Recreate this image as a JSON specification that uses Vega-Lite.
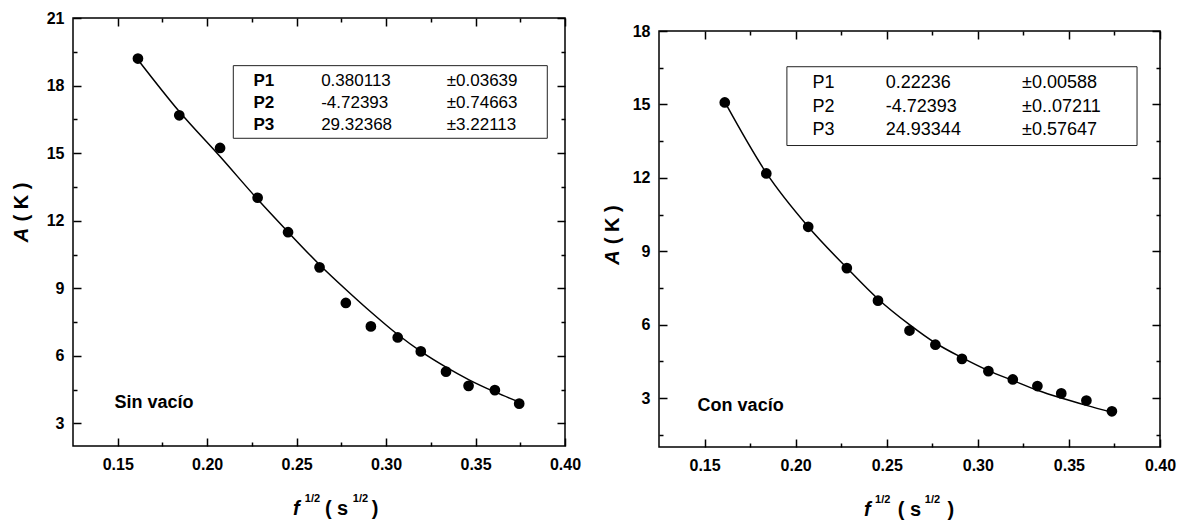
{
  "$schema": "https://vega.github.io/schema/vega-lite/v6.json",
  "background": "white",
  "padding": {"left": 11, "top": 9, "right": 0, "bottom": 0},
  "autosize": {"type": "pad"},
  "spacing": 20,
  "config": {
    "view": {"stroke": "black", "strokeWidth": 1.5},
    "font": "Liberation Sans",
    "axis": {"domain": false, "grid": false, "labelFont": "Liberation Sans", "labelFontSize": 16, "labelFontWeight": "bold", "labelColor": "black", "tickColor": "black", "tickWidth": 1.5, "labelFlush": false, "labelOverlap": false}
  },
  "datasets": {
    "left_points": [
      {"x": 0.1613, "y": 19.2}, {"x": 0.1844, "y": 16.68}, {"x": 0.2072, "y": 15.23}, {"x": 0.2282, "y": 13.02},
      {"x": 0.2452, "y": 11.49}, {"x": 0.2628, "y": 9.93}, {"x": 0.2775, "y": 8.35}, {"x": 0.2915, "y": 7.31},
      {"x": 0.3065, "y": 6.82}, {"x": 0.3194, "y": 6.2}, {"x": 0.3335, "y": 5.3}, {"x": 0.3461, "y": 4.67},
      {"x": 0.3608, "y": 4.48}, {"x": 0.3744, "y": 3.88}
    ],
    "left_fit": [
      {"x": 0.1613, "y": 19.15}, {"x": 0.1844, "y": 16.85}, {"x": 0.2072, "y": 14.85}, {"x": 0.2282, "y": 12.95},
      {"x": 0.2452, "y": 11.5}, {"x": 0.2628, "y": 10.05}, {"x": 0.2775, "y": 8.95}, {"x": 0.2915, "y": 7.95},
      {"x": 0.3065, "y": 6.95}, {"x": 0.3194, "y": 6.2}, {"x": 0.3335, "y": 5.5}, {"x": 0.3461, "y": 4.95},
      {"x": 0.3608, "y": 4.4}, {"x": 0.3744, "y": 3.95}
    ],
    "right_points": [
      {"x": 0.1611, "y": 15.08}, {"x": 0.1839, "y": 12.18}, {"x": 0.2069, "y": 10.0}, {"x": 0.2281, "y": 8.31},
      {"x": 0.2452, "y": 6.98}, {"x": 0.2625, "y": 5.76}, {"x": 0.2767, "y": 5.18}, {"x": 0.2913, "y": 4.6},
      {"x": 0.3058, "y": 4.1}, {"x": 0.3192, "y": 3.76}, {"x": 0.3327, "y": 3.49}, {"x": 0.3458, "y": 3.19},
      {"x": 0.3596, "y": 2.9}, {"x": 0.3736, "y": 2.46}
    ],
    "right_fit": [
      {"x": 0.1611, "y": 15.1}, {"x": 0.1839, "y": 12.2}, {"x": 0.2069, "y": 10.0}, {"x": 0.2281, "y": 8.32},
      {"x": 0.2452, "y": 7.05}, {"x": 0.2625, "y": 6.0}, {"x": 0.2767, "y": 5.25}, {"x": 0.2913, "y": 4.65},
      {"x": 0.3058, "y": 4.12}, {"x": 0.3192, "y": 3.72}, {"x": 0.3327, "y": 3.32}, {"x": 0.3458, "y": 3.0},
      {"x": 0.3596, "y": 2.7}, {"x": 0.3736, "y": 2.42}
    ],
    "empty": []
  },
  "hconcat": [
    {
      "width": 492,
      "height": 428,
      "layer": [
        {
          "data": {"name": "left_fit"},
          "mark": {"type": "line", "color": "black", "strokeWidth": 1.5, "interpolate": "monotone"},
          "encoding": {
            "x": {"field": "x", "type": "quantitative", "scale": {"domain": [0.125, 0.4], "nice": false, "zero": false},
              "axis": {"orient": "bottom", "title": null, "values": [0.15, 0.175, 0.2, 0.225, 0.25, 0.275, 0.3, 0.325, 0.35, 0.375, 0.4],
                "labelExpr": "abs(datum.value*20-round(datum.value*20))<0.001 ? format(datum.value,'.2f') : ''",
                "tickSize": {"condition": {"test": "abs(datum.value*20-round(datum.value*20))<0.001", "value": -8}, "value": -4},
                "labelPadding": 18}},
            "y": {"field": "y", "type": "quantitative", "scale": {"domain": [2, 21], "nice": false, "zero": false},
              "axis": {"orient": "left", "title": null, "values": [3, 4.5, 6, 7.5, 9, 10.5, 12, 13.5, 15, 16.5, 18, 19.5, 21],
                "labelExpr": "datum.value % 3 == 0 ? format(datum.value,'d') : ''",
                "tickSize": {"condition": {"test": "datum.value % 3 == 0", "value": -8}, "value": -4},
                "labelPadding": 17}}
          }
        },
        {
          "data": {"name": "left_points"},
          "mark": {"type": "circle", "color": "black", "size": 115, "opacity": 1},
          "encoding": {
            "x": {"field": "x", "type": "quantitative", "scale": {"domain": [0.125, 0.4], "nice": false, "zero": false},
              "axis": {"orient": "top", "title": null, "labels": false, "values": [0.15, 0.175, 0.2, 0.225, 0.25, 0.275, 0.3, 0.325, 0.35, 0.375, 0.4],
                "tickSize": {"condition": {"test": "abs(datum.value*20-round(datum.value*20))<0.001", "value": -8}, "value": -4}}},
            "y": {"field": "y", "type": "quantitative", "scale": {"domain": [2, 21], "nice": false, "zero": false},
              "axis": {"orient": "right", "title": null, "labels": false, "values": [3, 4.5, 6, 7.5, 9, 10.5, 12, 13.5, 15, 16.5, 18, 19.5, 21],
                "tickSize": {"condition": {"test": "datum.value % 3 == 0", "value": -8}, "value": -4}}}
          }
        },
        {
          "data": {"values": [{}]},
          "mark": {"type": "rect", "fill": "transparent", "stroke": "#222222", "strokeWidth": 1},
          "encoding": {
            "x": {"datum": 0.2146, "type": "quantitative", "scale": {"domain": [0.125, 0.4], "nice": false, "zero": false}, "axis": null},
            "x2": {"datum": 0.3901},
            "y": {"datum": 18.885, "type": "quantitative", "scale": {"domain": [2, 21], "nice": false, "zero": false}, "axis": null},
            "y2": {"datum": 15.66}
          }
        },
        {
          "data": {"values": [{}]},
          "mark": {"type": "text", "align": "left", "baseline": "middle", "fontSize": 17, "fontWeight": "bold", "lineHeight": 22, "color": "black"},
          "encoding": {
            "x": {"datum": 0.2259, "type": "quantitative", "scale": {"domain": [0.125, 0.4], "nice": false, "zero": false}, "axis": null},
            "y": {"datum": 18.22, "type": "quantitative", "scale": {"domain": [2, 21], "nice": false, "zero": false}, "axis": null},
            "text": {"value": ["P1", "P2", "P3"]}
          }
        },
        {
          "data": {"values": [{}]},
          "mark": {"type": "text", "align": "left", "baseline": "middle", "fontSize": 17, "lineHeight": 22, "color": "black"},
          "encoding": {
            "x": {"datum": 0.2637, "type": "quantitative", "scale": {"domain": [0.125, 0.4], "nice": false, "zero": false}, "axis": null},
            "y": {"datum": 18.22, "type": "quantitative", "scale": {"domain": [2, 21], "nice": false, "zero": false}, "axis": null},
            "text": {"value": ["0.380113", "-4.72393", "29.32368"]}
          }
        },
        {
          "data": {"values": [{}]},
          "mark": {"type": "text", "align": "left", "baseline": "middle", "fontSize": 17, "lineHeight": 22, "color": "black"},
          "encoding": {
            "x": {"datum": 0.3339, "type": "quantitative", "scale": {"domain": [0.125, 0.4], "nice": false, "zero": false}, "axis": null},
            "y": {"datum": 18.22, "type": "quantitative", "scale": {"domain": [2, 21], "nice": false, "zero": false}, "axis": null},
            "text": {"value": ["±0.03639", "±0.74663", "±3.22113"]}
          }
        },
        {
          "data": {"values": [{}]},
          "mark": {"type": "text", "align": "left", "baseline": "alphabetic", "fontSize": 18, "fontWeight": "bold", "color": "black"},
          "encoding": {
            "x": {"datum": 0.1482, "type": "quantitative", "scale": {"domain": [0.125, 0.4], "nice": false, "zero": false}, "axis": null},
            "y": {"datum": 3.69, "type": "quantitative", "scale": {"domain": [2, 21], "nice": false, "zero": false}, "axis": null},
            "text": {"value": "Sin vacío"}
          }
        },
        {
          "data": {"values": [{}]},
          "mark": {"type": "text", "align": "left", "baseline": "alphabetic", "angle": 270, "fontSize": 20, "fontWeight": "bold", "fontStyle": "italic", "color": "black"},
          "encoding": {
            "x": {"datum": 0.1001, "type": "quantitative", "scale": {"domain": [0.125, 0.4], "nice": false, "zero": false}, "axis": null},
            "y": {"datum": 11.05, "type": "quantitative", "scale": {"domain": [2, 21], "nice": false, "zero": false}, "axis": null},
            "text": {"value": "A"}
          }
        },
        {
          "data": {"values": [{}]},
          "mark": {"type": "text", "align": "left", "baseline": "alphabetic", "angle": 270, "fontSize": 20, "fontWeight": "bold", "color": "black"},
          "encoding": {
            "x": {"datum": 0.1001, "type": "quantitative", "scale": {"domain": [0.125, 0.4], "nice": false, "zero": false}, "axis": null},
            "y": {"datum": 11.97, "type": "quantitative", "scale": {"domain": [2, 21], "nice": false, "zero": false}, "axis": null},
            "text": {"value": "( K )"}
          }
        },
        {
          "data": {"values": [{}]},
          "mark": {"type": "text", "align": "left", "baseline": "alphabetic", "fontSize": 20, "fontWeight": "bold", "fontStyle": "italic", "color": "black"},
          "encoding": {
            "x": {"datum": 0.2479, "type": "quantitative", "scale": {"domain": [0.125, 0.4], "nice": false, "zero": false}, "axis": null},
            "y": {"datum": -1.06, "type": "quantitative", "scale": {"domain": [2, 21], "nice": false, "zero": false}, "axis": null},
            "text": {"value": "f"}
          }
        },
        {
          "data": {"values": [{}]},
          "mark": {"type": "text", "align": "left", "baseline": "alphabetic", "fontSize": 11, "fontWeight": "bold", "color": "black"},
          "encoding": {
            "x": {"datum": 0.2546, "type": "quantitative", "scale": {"domain": [0.125, 0.4], "nice": false, "zero": false}, "axis": null},
            "y": {"datum": -0.49, "type": "quantitative", "scale": {"domain": [2, 21], "nice": false, "zero": false}, "axis": null},
            "text": {"value": "1/2"}
          }
        },
        {
          "data": {"values": [{}]},
          "mark": {"type": "text", "align": "left", "baseline": "alphabetic", "fontSize": 20, "fontWeight": "bold", "color": "black"},
          "encoding": {
            "x": {"datum": 0.2658, "type": "quantitative", "scale": {"domain": [0.125, 0.4], "nice": false, "zero": false}, "axis": null},
            "y": {"datum": -1.06, "type": "quantitative", "scale": {"domain": [2, 21], "nice": false, "zero": false}, "axis": null},
            "text": {"value": "( s"}
          }
        },
        {
          "data": {"values": [{}]},
          "mark": {"type": "text", "align": "left", "baseline": "alphabetic", "fontSize": 11, "fontWeight": "bold", "color": "black"},
          "encoding": {
            "x": {"datum": 0.2814, "type": "quantitative", "scale": {"domain": [0.125, 0.4], "nice": false, "zero": false}, "axis": null},
            "y": {"datum": -0.49, "type": "quantitative", "scale": {"domain": [2, 21], "nice": false, "zero": false}, "axis": null},
            "text": {"value": "1/2"}
          }
        },
        {
          "data": {"values": [{}]},
          "mark": {"type": "text", "align": "left", "baseline": "alphabetic", "fontSize": 20, "fontWeight": "bold", "color": "black"},
          "encoding": {
            "x": {"datum": 0.292, "type": "quantitative", "scale": {"domain": [0.125, 0.4], "nice": false, "zero": false}, "axis": null},
            "y": {"datum": -1.06, "type": "quantitative", "scale": {"domain": [2, 21], "nice": false, "zero": false}, "axis": null},
            "text": {"value": ")"}
          }
        }
      ],
      "resolve": {"axis": {"x": "independent", "y": "independent"}}
    },
    {
      "spacing": 3,
      "vconcat": [
        {
          "width": 501,
          "height": 1,
          "view": {"stroke": null},
          "data": {"name": "empty"},
          "mark": {"type": "point", "opacity": 0}
        },
        {
          "width": 501,
          "height": 416,
          "layer": [
            {
              "data": {"name": "right_fit"},
              "mark": {"type": "line", "color": "black", "strokeWidth": 1.5, "interpolate": "monotone"},
              "encoding": {
                "x": {"field": "x", "type": "quantitative", "scale": {"domain": [0.125, 0.4], "nice": false, "zero": false},
                  "axis": {"orient": "bottom", "title": null, "values": [0.15, 0.175, 0.2, 0.225, 0.25, 0.275, 0.3, 0.325, 0.35, 0.375, 0.4],
                    "labelExpr": "abs(datum.value*20-round(datum.value*20))<0.001 ? format(datum.value,'.2f') : ''",
                    "tickSize": {"condition": {"test": "abs(datum.value*20-round(datum.value*20))<0.001", "value": -8}, "value": -4},
                    "labelPadding": 18}},
                "y": {"field": "y", "type": "quantitative", "scale": {"domain": [1, 18], "nice": false, "zero": false},
                  "axis": {"orient": "left", "title": null, "values": [1.5, 3, 4.5, 6, 7.5, 9, 10.5, 12, 13.5, 15, 16.5, 18],
                    "labelExpr": "datum.value % 3 == 0 ? format(datum.value,'d') : ''",
                    "tickSize": {"condition": {"test": "datum.value % 3 == 0", "value": -8}, "value": -4},
                    "labelPadding": 17}}
              }
            },
            {
              "data": {"name": "right_points"},
              "mark": {"type": "circle", "color": "black", "size": 115, "opacity": 1},
              "encoding": {
                "x": {"field": "x", "type": "quantitative", "scale": {"domain": [0.125, 0.4], "nice": false, "zero": false},
                  "axis": {"orient": "top", "title": null, "labels": false, "values": [0.15, 0.175, 0.2, 0.225, 0.25, 0.275, 0.3, 0.325, 0.35, 0.375, 0.4],
                    "tickSize": {"condition": {"test": "abs(datum.value*20-round(datum.value*20))<0.001", "value": -8}, "value": -4}}},
                "y": {"field": "y", "type": "quantitative", "scale": {"domain": [1, 18], "nice": false, "zero": false},
                  "axis": {"orient": "right", "title": null, "labels": false, "values": [1.5, 3, 4.5, 6, 7.5, 9, 10.5, 12, 13.5, 15, 16.5, 18],
                    "tickSize": {"condition": {"test": "datum.value % 3 == 0", "value": -8}, "value": -4}}}
              }
            },
            {
              "data": {"values": [{}]},
              "mark": {"type": "rect", "fill": "transparent", "stroke": "#222222", "strokeWidth": 1},
              "encoding": {
                "x": {"datum": 0.1952, "type": "quantitative", "scale": {"domain": [0.125, 0.4], "nice": false, "zero": false}, "axis": null},
                "x2": {"datum": 0.3874},
                "y": {"datum": 16.54, "type": "quantitative", "scale": {"domain": [1, 18], "nice": false, "zero": false}, "axis": null},
                "y2": {"datum": 13.32}
              }
            },
            {
              "data": {"values": [{}]},
              "mark": {"type": "text", "align": "left", "baseline": "middle", "fontSize": 18, "lineHeight": 23.3, "color": "black"},
              "encoding": {
                "x": {"datum": 0.2093, "type": "quantitative", "scale": {"domain": [0.125, 0.4], "nice": false, "zero": false}, "axis": null},
                "y": {"datum": 15.86, "type": "quantitative", "scale": {"domain": [1, 18], "nice": false, "zero": false}, "axis": null},
                "text": {"value": ["P1", "P2", "P3"]}
              }
            },
            {
              "data": {"values": [{}]},
              "mark": {"type": "text", "align": "left", "baseline": "middle", "fontSize": 18, "lineHeight": 23.3, "color": "black"},
              "encoding": {
                "x": {"datum": 0.2495, "type": "quantitative", "scale": {"domain": [0.125, 0.4], "nice": false, "zero": false}, "axis": null},
                "y": {"datum": 15.86, "type": "quantitative", "scale": {"domain": [1, 18], "nice": false, "zero": false}, "axis": null},
                "text": {"value": ["0.22236", "-4.72393", "24.93344"]}
              }
            },
            {
              "data": {"values": [{}]},
              "mark": {"type": "text", "align": "left", "baseline": "middle", "fontSize": 18, "lineHeight": 23.3, "color": "black"},
              "encoding": {
                "x": {"datum": 0.3243, "type": "quantitative", "scale": {"domain": [0.125, 0.4], "nice": false, "zero": false}, "axis": null},
                "y": {"datum": 15.86, "type": "quantitative", "scale": {"domain": [1, 18], "nice": false, "zero": false}, "axis": null},
                "text": {"value": ["±0.00588", "±0..07211", "±0.57647"]}
              }
            },
            {
              "data": {"values": [{}]},
              "mark": {"type": "text", "align": "left", "baseline": "alphabetic", "fontSize": 18, "fontWeight": "bold", "color": "black"},
              "encoding": {
                "x": {"datum": 0.1462, "type": "quantitative", "scale": {"domain": [0.125, 0.4], "nice": false, "zero": false}, "axis": null},
                "y": {"datum": 2.46, "type": "quantitative", "scale": {"domain": [1, 18], "nice": false, "zero": false}, "axis": null},
                "text": {"value": "Con vacío"}
              }
            },
            {
              "data": {"values": [{}]},
              "mark": {"type": "text", "align": "left", "baseline": "alphabetic", "angle": 270, "fontSize": 20, "fontWeight": "bold", "fontStyle": "italic", "color": "black"},
              "encoding": {
                "x": {"datum": 0.103, "type": "quantitative", "scale": {"domain": [0.125, 0.4], "nice": false, "zero": false}, "axis": null},
                "y": {"datum": 8.45, "type": "quantitative", "scale": {"domain": [1, 18], "nice": false, "zero": false}, "axis": null},
                "text": {"value": "A"}
              }
            },
            {
              "data": {"values": [{}]},
              "mark": {"type": "text", "align": "left", "baseline": "alphabetic", "angle": 270, "fontSize": 20, "fontWeight": "bold", "color": "black"},
              "encoding": {
                "x": {"datum": 0.103, "type": "quantitative", "scale": {"domain": [0.125, 0.4], "nice": false, "zero": false}, "axis": null},
                "y": {"datum": 9.29, "type": "quantitative", "scale": {"domain": [1, 18], "nice": false, "zero": false}, "axis": null},
                "text": {"value": "( K )"}
              }
            },
            {
              "data": {"values": [{}]},
              "mark": {"type": "text", "align": "left", "baseline": "alphabetic", "fontSize": 20, "fontWeight": "bold", "fontStyle": "italic", "color": "black"},
              "encoding": {
                "x": {"datum": 0.2375, "type": "quantitative", "scale": {"domain": [0.125, 0.4], "nice": false, "zero": false}, "axis": null},
                "y": {"datum": -1.81, "type": "quantitative", "scale": {"domain": [1, 18], "nice": false, "zero": false}, "axis": null},
                "text": {"value": "f"}
              }
            },
            {
              "data": {"values": [{}]},
              "mark": {"type": "text", "align": "left", "baseline": "alphabetic", "fontSize": 11, "fontWeight": "bold", "color": "black"},
              "encoding": {
                "x": {"datum": 0.2436, "type": "quantitative", "scale": {"domain": [0.125, 0.4], "nice": false, "zero": false}, "axis": null},
                "y": {"datum": -1.29, "type": "quantitative", "scale": {"domain": [1, 18], "nice": false, "zero": false}, "axis": null},
                "text": {"value": "1/2"}
              }
            },
            {
              "data": {"values": [{}]},
              "mark": {"type": "text", "align": "left", "baseline": "alphabetic", "fontSize": 20, "fontWeight": "bold", "color": "black"},
              "encoding": {
                "x": {"datum": 0.2561, "type": "quantitative", "scale": {"domain": [0.125, 0.4], "nice": false, "zero": false}, "axis": null},
                "y": {"datum": -1.81, "type": "quantitative", "scale": {"domain": [1, 18], "nice": false, "zero": false}, "axis": null},
                "text": {"value": "( s"}
              }
            },
            {
              "data": {"values": [{}]},
              "mark": {"type": "text", "align": "left", "baseline": "alphabetic", "fontSize": 11, "fontWeight": "bold", "color": "black"},
              "encoding": {
                "x": {"datum": 0.2709, "type": "quantitative", "scale": {"domain": [0.125, 0.4], "nice": false, "zero": false}, "axis": null},
                "y": {"datum": -1.29, "type": "quantitative", "scale": {"domain": [1, 18], "nice": false, "zero": false}, "axis": null},
                "text": {"value": "1/2"}
              }
            },
            {
              "data": {"values": [{}]},
              "mark": {"type": "text", "align": "left", "baseline": "alphabetic", "fontSize": 20, "fontWeight": "bold", "color": "black"},
              "encoding": {
                "x": {"datum": 0.2833, "type": "quantitative", "scale": {"domain": [0.125, 0.4], "nice": false, "zero": false}, "axis": null},
                "y": {"datum": -1.81, "type": "quantitative", "scale": {"domain": [1, 18], "nice": false, "zero": false}, "axis": null},
                "text": {"value": ")"}
              }
            }
          ],
          "resolve": {"axis": {"x": "independent", "y": "independent"}}
        }
      ]
    }
  ]
}
